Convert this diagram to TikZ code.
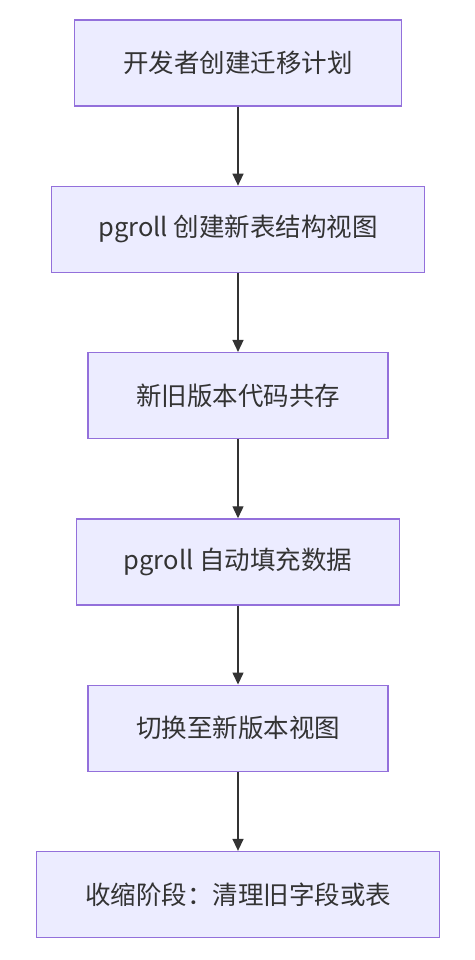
\documentclass[tikz,border=0pt]{standalone}
\usepackage{fontspec}
\setmainfont{Noto Sans CJK SC}
\usetikzlibrary{arrows.meta,positioning}
\definecolor{boxfill}{HTML}{ECECFF}
\definecolor{boxline}{HTML}{9370DB}
\definecolor{inkgray}{HTML}{333333}

\begin{document}
\begin{tikzpicture}[
    node distance=79pt,
    every node/.style={font=\fontsize{25.5pt}{30pt}\selectfont, text=inkgray},
    stage/.style={
      rectangle, draw=boxline, line width=1.3pt,
      fill=boxfill, minimum height=86pt,
      inner sep=0pt, align=center
    },
    arr/.style={-{Triangle[length=12pt,width=11pt]}, line width=1.4pt, draw=inkgray}
  ]
  \useasboundingbox (0,0) rectangle (474pt,-960pt);

  % Migration steps
  \node[stage, minimum width=327pt] (plan) at (238pt,-63pt) {开发者创建迁移计划};
  \node[stage, minimum width=373pt, below=of plan] (views) {pgroll 创建新表结构视图};
  \node[stage, minimum width=300pt, below=of views] (coexist) {新旧版本代码共存};
  \node[stage, minimum width=323pt, below=of coexist] (backfill) {pgroll 自动填充数据};
  \node[stage, minimum width=300pt, below=of backfill] (switch) {切换至新版本视图};
  \node[stage, minimum width=403pt, below=of switch] (contract) {收缩阶段：清理旧字段或表};

  % Arrows
  \draw[arr] (plan) -- (views);
  \draw[arr] (views) -- (coexist);
  \draw[arr] (coexist) -- (backfill);
  \draw[arr] (backfill) -- (switch);
  \draw[arr] (switch) -- (contract);

\end{tikzpicture}
\end{document}
